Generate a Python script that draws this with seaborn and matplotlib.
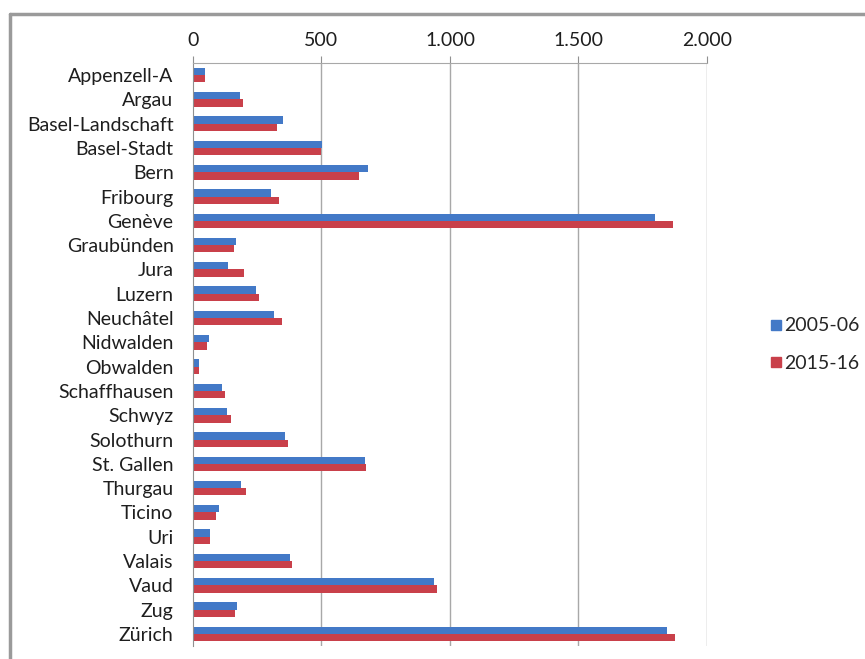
import pandas as pd
import matplotlib.pyplot as plt
import matplotlib.lines as mlines
import seaborn as sns

# cantons, top to bottom
cantons = ["Appenzell-A", "Argau", "Basel-Landschaft", "Basel-Stadt", "Bern",
           "Fribourg", "Genève", "Graubünden", "Jura", "Luzern", "Neuchâtel",
           "Nidwalden", "Obwalden", "Schaffhausen", "Schwyz", "Solothurn",
           "St. Gallen", "Thurgau", "Ticino", "Uri", "Valais", "Vaud", "Zug",
           "Zürich"]
years = ["2005-06", "2015-16"]

# values
v_2005 = [45, 184, 350, 503, 680, 302, 1796, 167, 136, 245, 314, 62, 22,
          112, 132, 357, 669, 188, 100, 68, 376, 936, 172, 1844]
v_2015 = [45, 193, 327, 500, 647, 335, 1866, 159, 197, 257, 346, 54, 22,
          123, 148, 368, 672, 205, 91, 68, 384, 948, 165, 1876]
xticks = [0, 500, 1000, 1500, 2000]
xtick_labels = ["0", "500", "1.000", "1.500", "2.000"]

colors = {"2005-06": "#4379C7", "2015-16": "#C9404A"}

df = pd.DataFrame({
    "canton": cantons * 2,
    "year": [years[0]] * len(cantons) + [years[1]] * len(cantons),
    "value": v_2005 + v_2015,
})

sns.set_style("white")
plt.rcParams["font.family"] = ["Lato", "DejaVu Sans"]

fig = plt.figure(figsize=(8.65, 6.59), dpi=100)
ax = fig.add_axes([0.2231, 0.0197, 0.5942, 0.8847])

sns.barplot(data=df, y="canton", x="value", hue="year", order=cantons,
            hue_order=years, palette=colors, orient="h", width=0.6,
            saturation=1, linewidth=0, ax=ax, legend=False)

ax.set_xlim(0, 2000)
ax.set_ylim(len(cantons) - 0.5, -0.5)
ax.xaxis.tick_top()
ax.set_xticks(xticks)
ax.set_xticklabels(xtick_labels, fontsize=14, color="#1E1E1E")
ax.tick_params(axis="x", length=5, color="#909090", pad=5)
ax.set_yticks(range(len(cantons)))
ax.set_yticklabels(cantons, fontsize=14, color="#1E1E1E")
ax.tick_params(axis="y", which="major", length=0, pad=14)
ax.set_yticks([i - 0.5 for i in range(len(cantons) + 1)], minor=True)
ax.tick_params(axis="y", which="minor", length=5, color="#909090")
ax.set_xlabel("")
ax.set_ylabel("")

# vertical gridlines
for x in xticks[1:]:
    ax.axvline(x, color="#A8A8A8", lw=1, zorder=0)

for side in ["right", "bottom"]:
    ax.spines[side].set_visible(False)
ax.spines["top"].set_color("#A8A8A8")
ax.spines["left"].set_color("#909090")

handles = [mlines.Line2D([], [], marker="s", ls="", markersize=7,
                         color=colors[y], label=y) for y in years]
fig.legend(handles=handles, loc="center left", bbox_to_anchor=(0.89, 0.477),
           frameon=False, fontsize=14, handletextpad=0.15, labelspacing=1.05,
           handlelength=0.6, borderpad=0, borderaxespad=0)

# outer chart frame
fig.add_artist(mlines.Line2D([0.012, 0.012], [0, 0.979], color="#9A9A9A", lw=2.5))
fig.add_artist(mlines.Line2D([0.012, 1], [0.979, 0.979], color="#9A9A9A", lw=2.5))

plt.savefig("out.png", dpi=100)
